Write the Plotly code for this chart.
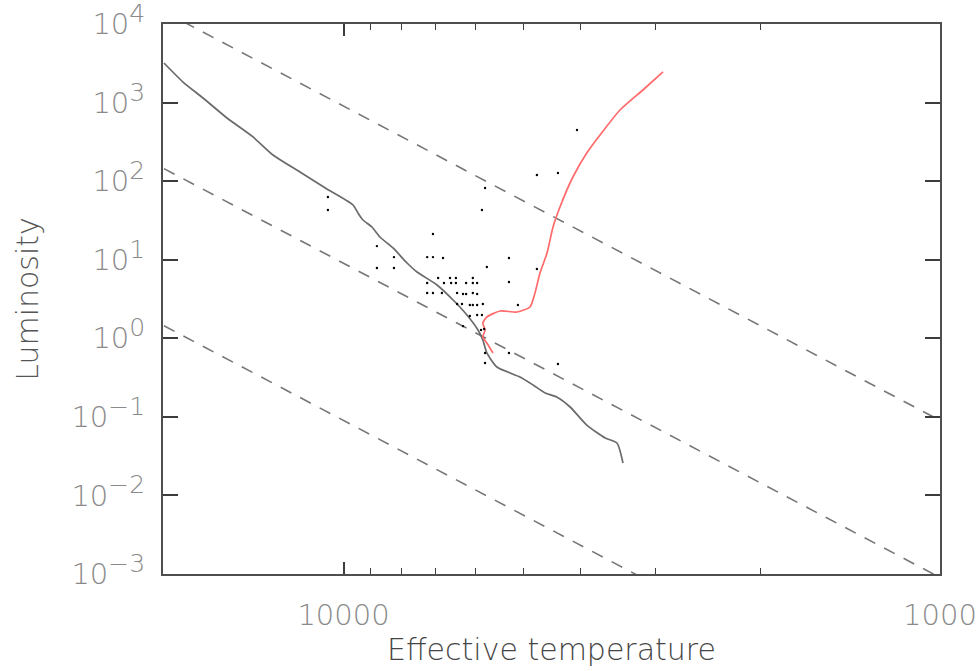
import plotly.graph_objects as go

# ---- data ----
track_gray_T = [20000, 18580, 17200, 15680, 14180, 13130, 11830, 10660, 9640, 9456, 9275, 8960,
                8690, 8260, 7825, 7530, 6970, 6550, 6210, 5950, 5840, 5750, 5530, 5060, 4810,
                4590, 4390, 4170, 3910, 3640, 3480, 3400]
track_gray_L = [3190, 1827, 1144, 636, 365, 215, 130.7, 79.4, 49.7, 39.3, 32.0, 26.1,
                19.45, 14.1, 9.08, 6.98, 4.77, 3.07, 1.98, 1.275, 0.951, 0.650, 0.431, 0.3214, 0.2543,
                0.2012, 0.1789, 0.1335, 0.0787, 0.0538, 0.0465, 0.0259]

track_red_T = [5616, 5750, 5840, 5790, 5840, 5750, 5465, 5118, 4868, 4775, 4684, 4558, 4454,
               4336, 4125, 3910, 3715, 3439, 3148, 2913]
track_red_L = [0.650, 0.871, 1.038, 1.275, 1.565, 1.866, 2.225, 2.16, 2.50, 3.77, 6.78, 12.17, 26.1,
               46.9, 112.9, 228, 386.6, 804, 1445, 2450]

stars_T = [10620, 10620, 8790, 8790, 8230, 8230, 7240, 7080, 6810, 7080, 5860, 5790, 4740, 4370,
           4060, 5280, 5750, 4740, 6940, 6630, 6480, 6070, 7240, 6785, 6600, 6480, 6230, 6070,
           5970, 5280, 7240, 7080, 6840, 6450, 6305, 6230, 6070, 5970, 6450, 6330, 6140, 6070,
           5970, 5840, 5100, 6140, 5970, 5860, 6305, 5880, 5810, 5790, 5280, 5790, 4370]
stars_L = [62.8, 42.9, 14.9, 7.84, 10.8, 7.84, 10.8, 10.8, 10.5, 21.2, 42.9, 81.8, 119.7, 127,
           447.7, 10.5, 8.07, 7.61, 5.85, 5.85, 5.85, 5.85, 5.05, 5.05, 5.05, 5.05, 5.05, 5.05,
           5.05, 5.20, 3.77, 3.77, 3.77, 3.77, 3.66, 3.66, 3.77, 3.66, 2.73, 2.73, 2.65, 2.65,
           2.65, 2.73, 2.65, 1.92, 1.98, 1.98, 1.43, 1.275, 1.31, 0.650, 0.650, 0.4846, 0.4707]

# constant-radius lines (straight in log-log): endpoints
radius_T = [20000, 1000]
radius_L = {
    "R1": [14420, 0.0902],
    "R2": [144.2, 0.000902],
    "R3": [1.442, 0.00000902],
}

y_tickvals = [1e-3, 1e-2, 1e-1, 1e0, 1e1, 1e2, 1e3, 1e4]
y_exponents = ["\u22123", "\u22122", "\u22121", "0", "1", "2", "3", "4"]
x_tickvals = [10000, 1000]
x_ticktext = ["10000", "1000"]
x_minorvals = [9000, 8000, 7000, 6000, 5000, 4000, 3000, 2000]

y_ticktext = ["10<sup><span style='font-size:25px'>%s</span></sup>" % e for e in y_exponents]

fig = go.Figure()

for key, L in radius_L.items():
    fig.add_trace(go.Scatter(x=radius_T, y=L, mode="lines",
                             line=dict(color="#777777", width=1.6, dash="12px,10px"),
                             showlegend=False, hoverinfo="skip"))

fig.add_trace(go.Scatter(x=track_gray_T, y=track_gray_L, mode="lines", line_shape="spline",
                         line=dict(color="#6a6a6a", width=1.7, smoothing=0.6), showlegend=False))
fig.add_trace(go.Scatter(x=track_red_T, y=track_red_L, mode="lines", line_shape="spline",
                         line=dict(color="#ff6a6a", width=1.7, smoothing=0.6), showlegend=False))
fig.add_trace(go.Scatter(x=stars_T, y=stars_L, mode="markers",
                         marker=dict(color="#000000", size=2.4), showlegend=False))

font_fam = "DejaVu Sans, Liberation Sans, sans-serif"

fig.update_layout(
    width=980, height=671,
    margin=dict(l=163, r=40, t=24, b=97, autoexpand=False),
    paper_bgcolor="white", plot_bgcolor="white",
    font=dict(family=font_fam, color="#8a8a8a", size=29, weight=200),
)

fig.update_xaxes(
    type="log", range=[4.3026, 3.0], automargin=False,
    showgrid=False, zeroline=False,
    showline=True, linecolor="#4e4e4e", linewidth=2, mirror="ticks",
    tickmode="array", tickvals=x_tickvals, ticktext=x_ticktext,
    ticks="inside", ticklen=12, tickwidth=1.6, tickcolor="#3c3c3c",
    tickfont=dict(family=font_fam, size=29, color="#8a8a8a", weight=200),
    ticklabelstandoff=14, ticklabeloverflow="allow",
    minor=dict(tickmode="array", tickvals=x_minorvals, ticks="inside",
               ticklen=6, tickwidth=1.4, tickcolor="#3c3c3c", showgrid=False),
    title=dict(text="Effective temperature", standoff=6,
               font=dict(family=font_fam, size=30, color="#454545", weight=200)),
)

fig.update_yaxes(
    type="log", range=[-3, 4], automargin=False,
    showgrid=False, zeroline=False,
    showline=True, linecolor="#4e4e4e", linewidth=2, mirror="ticks",
    tickmode="array", tickvals=y_tickvals, ticktext=y_ticktext,
    ticks="inside", ticklen=15, tickwidth=1.8, tickcolor="#3c3c3c",
    tickfont=dict(family=font_fam, size=29, color="#8a8a8a", weight=200),
    ticklabelstandoff=10, ticklabeloverflow="allow",
    title=dict(text="Luminosity", standoff=24,
               font=dict(family=font_fam, size=30, color="#555555", weight=200)),
)

fig.write_html("out.html")
